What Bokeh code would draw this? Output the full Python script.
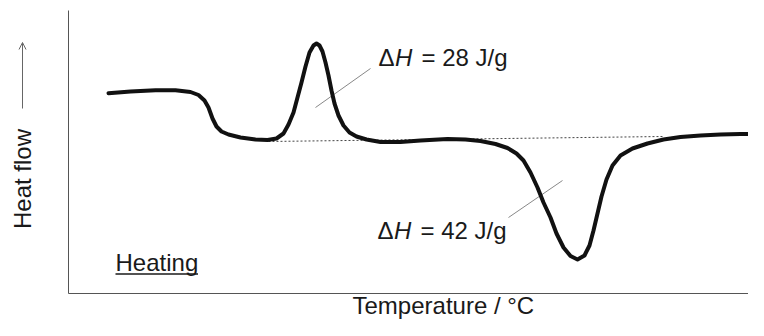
import math
from bokeh.plotting import figure
from bokeh.models import Range1d, Label, Arrow, OpenHead
from bokeh.embed import file_html
from bokeh.resources import INLINE

# DSC curve (temperature in degC, heat flow in W/g, arbitrary baseline)
temperature = [36.0, 44.8, 54.8, 62.8, 68.8, 72.0, 74.4, 76.0, 77.6, 79.2, 81.2, 84.0,
               88.8, 94.8, 99.6, 103.2, 106.0, 108.0, 110.0, 111.6, 113.2, 114.8, 116.4,
               118.0, 119.2, 120.4, 121.6, 122.8, 124.0, 125.2, 126.4, 128.0, 130.0,
               132.4, 135.2, 139.2, 144.8, 152.8, 160.8, 171.6, 178.8, 184.8, 190.8,
               195.6, 199.2, 202.0, 204.8, 207.6, 210.0, 212.8, 215.2, 218.0, 220.8,
               223.6, 226.4, 228.4, 230.0, 231.6, 233.2, 235.2, 237.6, 240.8, 245.6,
               251.6, 258.0, 264.8, 272.8, 280.8, 288.8, 297.2]
heat_flow = [0.453, 0.47, 0.482, 0.482, 0.465, 0.435, 0.38, 0.31, 0.20, 0.12, 0.07, 0.04,
             0.01, -0.01, -0.015, 0.0, 0.05, 0.14, 0.26, 0.41, 0.56, 0.72, 0.86,
             0.93, 0.95, 0.93, 0.87, 0.76, 0.63, 0.48, 0.35, 0.23, 0.13,
             0.06, 0.02, -0.01, -0.035, -0.035, -0.02, -0.005, -0.01, -0.025, -0.055,
             -0.095, -0.15, -0.22, -0.34, -0.49, -0.64, -0.79, -0.95, -1.09, -1.175,
             -1.21, -1.17, -1.07, -0.92, -0.75, -0.58, -0.41, -0.27, -0.17, -0.10,
             -0.05, -0.01, 0.015, 0.03, 0.04, 0.045, 0.045]

# integration baseline
baseline_T = [100.0, 258.0]
baseline_HF = [-0.03, 0.02]

# leader lines to the enthalpy labels
leader_cryst_T = [118.8, 140.8]
leader_cryst_HF = [0.31, 0.70]
leader_melt_T = [217.6, 196.0]
leader_melt_HF = [-0.42, -0.79]

enthalpies = ["28", "42"]

# plot window (axis corner and extent)
T_MIN, T_MAX = 20.0, 292.0
HF_MIN, HF_MAX = -1.55, 1.28

FONT = "Liberation Sans"
TXT = "#1a1a1a"
AX = "#555555"

p = figure(width=748, height=320, output_backend="svg", toolbar_location=None,
           x_range=Range1d(-7.2, 292.0), y_range=Range1d(-1.82, 1.38),
           min_border=0, min_border_left=0, min_border_right=0,
           min_border_top=0, min_border_bottom=0)
p.xaxis.visible = False
p.yaxis.visible = False
p.outline_line_color = None
p.grid.visible = False
p.background_fill_color = "white"
p.border_fill_color = "white"

# axis lines (left and bottom)
p.line([T_MIN, T_MIN], [HF_MIN, HF_MAX], line_color=AX, line_width=1)
p.line([T_MIN, T_MAX], [HF_MIN, HF_MIN], line_color=AX, line_width=1)

# baseline (dotted)
p.line(baseline_T, baseline_HF, line_color="#444444", line_width=1, line_dash="2 2")
# leader lines
p.line(leader_cryst_T, leader_cryst_HF, line_color="#888888", line_width=1)
p.line(leader_melt_T, leader_melt_HF, line_color="#888888", line_width=1)
# DSC curve
p.line(temperature, heat_flow, line_color="#111111", line_width=4,
       line_join="round", line_cap="round")

def delta_h(x, y, val):
    p.add_layout(Label(x=x, y=y, text="\u0394", text_font=FONT, text_font_size="24px",
                       text_color=TXT, text_baseline="alphabetic"))
    p.add_layout(Label(x=x, y=y, x_offset=16.5, text="H", text_font=FONT,
                       text_font_size="24px", text_font_style="italic",
                       text_color=TXT, text_baseline="alphabetic"))
    p.add_layout(Label(x=x, y=y, x_offset=43, text="= %s J/g" % val, text_font=FONT,
                       text_font_size="24px", text_color=TXT,
                       text_baseline="alphabetic"))

delta_h(144.0, 0.81, enthalpies[0])
delta_h(143.6, -0.92, enthalpies[1])

# Heating label with underline
p.add_layout(Label(x=38.8, y=-1.24, text="Heating", text_font=FONT, text_font_size="24px",
                   text_color=TXT, text_baseline="alphabetic"))
p.line([38.8, 71.8], [-1.355, -1.355], line_color=TXT, line_width=1.5)

# axis titles
p.add_layout(Label(x=133.6, y=-1.67, text="Temperature / \u00b0C", text_font=FONT,
                   text_font_size="24px", text_color=TXT, text_baseline="alphabetic"))
p.add_layout(Label(x=1.6, y=-0.405, text="Heat flow", angle=math.pi / 2,
                   text_font=FONT, text_font_size="24px", text_color=TXT,
                   text_align="center", text_baseline="alphabetic"))
p.add_layout(Arrow(x_start=1.6, y_start=0.30, x_end=1.6, y_end=0.96,
                   line_color="#666666", line_width=1,
                   end=OpenHead(size=7, line_color="#666666", line_width=1)))

open("out.html", "w").write(file_html(p, INLINE))
